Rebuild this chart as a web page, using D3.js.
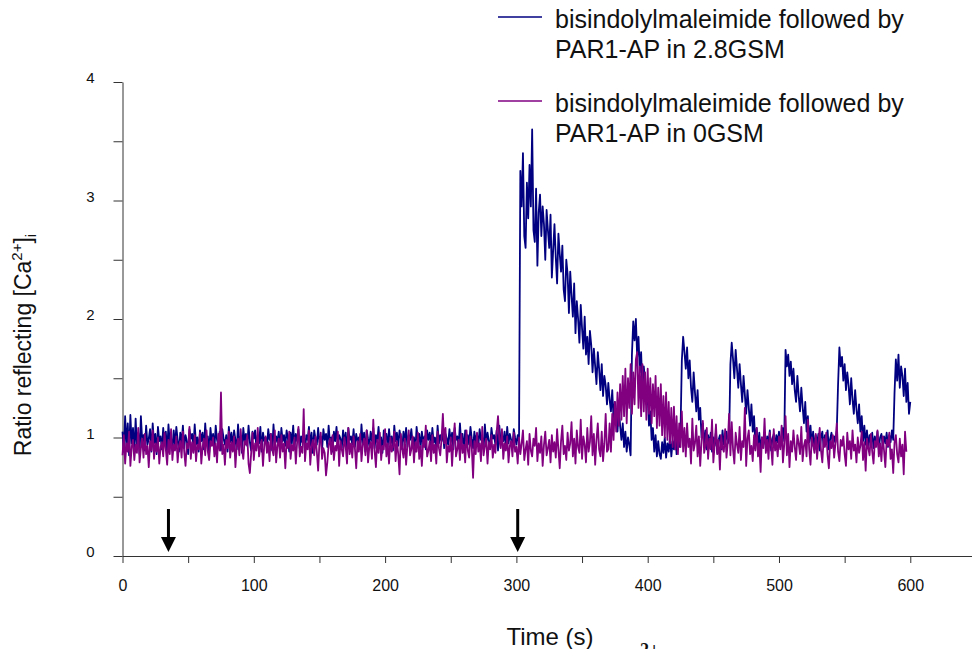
<!DOCTYPE html>
<html>
<head>
<meta charset="utf-8">
<script src="https://cdn.jsdelivr.net/npm/d3@7"></script>
<style>
  body { margin: 0; background: #fff; }
  svg { display: block; font-family: 'Liberation Sans', Arial, sans-serif; }
</style>
</head>
<body>
<div id="chart"></div>
<script>
// one reading per second
var timeStep = 1

var seriesNames = [
  ['bisindolylmaleimide followed by', 'PAR1-AP in 2.8GSM'],
  ['bisindolylmaleimide followed by', 'PAR1-AP in 0GSM']
]

var ratio28GSM = [
  1.05, 0.88, 1.18, 0.92, 1.12, 0.85, 1.19, 0.95, 1.08, 0.87,
  1.16, 0.93, 1.04, 0.86, 1.18, 0.97, 1.02, 0.89, 1.10, 0.94,
  0.99, 1.07, 0.88, 1.12, 0.95, 1.03, 0.86, 1.09, 0.97, 1.01,
  0.90, 1.08, 0.94, 1.05, 0.87, 1.11, 0.96, 1.00, 0.89, 1.06,
  0.93, 1.09, 0.98, 0.88, 1.04, 0.95, 1.10, 0.91, 1.02, 0.97,
  0.86, 1.07, 0.99, 1.03, 0.92, 1.11, 0.94, 1.00, 0.88, 1.06,
  0.97, 1.04, 0.90, 1.12, 0.95, 1.01, 0.87, 1.08, 0.96, 1.03,
  0.91, 1.10, 0.98, 0.93, 1.05, 0.89, 1.07, 0.99, 0.94, 1.02,
  0.88, 1.09, 0.96, 1.04, 0.92, 1.06, 0.98, 0.90, 1.11, 0.95,
  1.01, 0.87, 1.08, 0.97, 1.03, 0.93, 1.10, 0.96, 0.89, 1.05,
  0.99, 1.06, 0.91, 1.02, 0.95, 1.09, 0.88, 1.04, 0.97, 1.00,
  0.92, 1.07, 0.98, 1.03, 0.89, 1.11, 0.94, 1.01, 0.96, 1.05,
  0.90, 1.08, 0.97, 1.02, 0.93, 1.06, 0.99, 0.88, 1.04, 0.95,
  1.10, 0.92, 1.03, 0.97, 1.07, 0.91, 1.01, 0.96, 1.05, 0.89,
  1.02, 0.98, 1.09, 0.93, 1.04, 0.87, 1.06, 0.99, 0.94, 1.08,
  0.96, 1.01, 0.90, 1.07, 0.98, 1.03, 0.92, 1.10, 0.95, 1.00,
  0.88, 1.05, 0.97, 1.09, 0.93, 1.02, 0.99, 0.91, 1.06, 0.96,
  1.04, 0.89, 1.08, 0.98, 1.01, 0.94, 1.07, 0.92, 1.03, 0.97,
  1.00, 0.90, 1.11, 0.95, 1.04, 0.88, 1.06, 0.99, 0.93, 1.05,
  0.97, 1.08, 0.91, 1.02, 0.96, 1.09, 0.94, 1.00, 0.87, 1.06,
  0.98, 1.03, 0.92, 1.07, 0.95, 1.01, 0.89, 1.10, 0.97, 1.04,
  0.93, 1.06, 0.99, 0.90, 1.05, 0.96, 1.08, 0.92, 1.02, 0.98,
  1.07, 0.94, 1.00, 0.88, 1.09, 0.97, 1.03, 0.91, 1.05, 0.95,
  1.01, 0.90, 1.06, 0.98, 1.04, 0.93, 1.08, 0.96, 1.00, 0.89,
  1.10, 0.95, 1.02, 0.97, 1.06, 0.91, 1.03, 0.99, 0.94, 1.07,
  0.96, 1.04, 0.90, 1.08, 0.98, 1.01, 0.93, 1.12, 0.95, 1.03,
  0.88, 1.06, 0.97, 1.02, 0.94, 1.09, 0.99, 0.91, 1.05, 0.96,
  1.03, 0.93, 1.07, 0.98, 1.00, 0.90, 1.11, 0.95, 1.04, 0.97,
  0.92, 1.08, 0.99, 1.02, 0.94, 1.06, 0.89, 1.10, 0.96, 1.01,
  0.97, 1.05, 0.91, 1.09, 0.95, 1.03, 0.98, 0.93, 1.07, 1.00,
  0.94, 1.02, 0.96, 3.25, 2.95, 3.40, 2.70, 2.60, 3.15, 2.85,
  3.30, 2.95, 3.60, 2.75, 2.65, 3.10, 2.45, 2.90, 3.05, 2.70,
  2.95, 2.80, 2.50, 2.92, 2.75, 2.60, 2.88, 2.35, 2.58, 2.80,
  2.52, 2.30, 2.72, 2.55, 2.40, 2.62, 2.25, 2.15, 2.50, 2.38,
  2.05, 2.40, 2.20, 2.02, 2.30, 1.88, 2.15, 2.00, 1.80, 2.12,
  1.92, 1.75, 2.02, 1.70, 1.85, 1.62, 1.90, 1.78, 1.55, 1.75,
  1.60, 1.45, 1.72, 1.58, 1.40, 1.62, 1.35, 1.52, 1.44, 1.28,
  1.46, 1.32, 1.22, 1.40, 1.15, 1.30, 1.20, 1.05, 1.25, 1.10,
  0.98, 1.12, 0.92, 1.05, 0.88, 1.00, 0.94, 0.85, 1.70, 1.98,
  1.82, 2.00, 1.68, 1.85, 1.55, 1.72, 1.40, 1.60, 1.48, 1.28,
  1.35, 1.10, 1.22, 0.98, 1.08, 0.88, 1.02, 0.84, 0.97, 0.86,
  0.82, 0.96, 0.87, 1.00, 0.83, 0.95, 0.88, 1.01, 0.84, 0.97,
  0.90, 1.03, 0.86, 0.99, 0.92, 1.05, 1.65, 1.85, 1.72, 1.58,
  1.76, 1.50, 1.65, 1.42, 1.30, 1.55, 1.38, 1.22, 1.40, 1.15,
  1.25, 1.00, 1.12, 0.93, 1.06, 0.90, 1.02, 0.94, 1.04, 0.88,
  1.00, 0.93, 1.05, 0.87, 0.98, 1.02, 0.90, 1.06, 0.94, 0.97,
  1.05, 0.95, 0.99, 1.62, 1.80, 1.66, 1.50, 1.74, 1.58, 1.42,
  1.62, 1.45, 1.30, 1.52, 1.36, 1.20, 1.40, 1.25, 1.10, 1.28,
  1.05, 1.18, 0.94, 1.08, 0.92, 1.04, 0.89, 1.00, 0.94, 1.04,
  0.90, 1.01, 0.95, 1.06, 0.89, 0.99, 1.03, 0.93, 1.02, 0.96,
  1.05, 0.92, 1.01, 1.08, 0.97, 1.74, 1.60, 1.70, 1.52, 1.64,
  1.45, 1.58, 1.40, 1.30, 1.52, 1.35, 1.22, 1.42, 1.26, 1.12,
  1.30, 1.05, 1.18, 0.96, 1.10, 0.93, 1.05, 0.90, 1.02, 0.94,
  1.03, 0.89, 1.00, 1.05, 0.92, 1.02, 0.95, 1.06, 0.90, 0.99,
  1.04, 0.93, 1.01, 0.96, 1.06, 1.45, 1.76, 1.60, 1.68, 1.48,
  1.62, 1.40, 1.55, 1.44, 1.28, 1.50, 1.32, 1.20, 1.40, 1.24,
  1.12, 1.28, 1.05, 1.18, 0.97, 1.10, 0.94, 1.06, 0.91, 1.02,
  0.95, 1.04, 0.91, 1.01, 0.94, 1.05, 0.90, 1.00, 1.03, 0.93,
  1.01, 0.95, 1.04, 0.92, 1.02, 0.96, 1.06, 0.98, 1.38, 1.66,
  1.48, 1.70, 1.42, 1.60, 1.52, 1.35, 1.58, 1.30, 1.46, 1.20,
  1.30
]

var ratio0GSM = [
  0.85, 1.02, 0.78, 0.95, 0.88, 1.05, 0.76, 0.92, 0.98, 0.81,
  0.94, 0.87, 1.08, 0.79, 0.91, 0.99, 0.83, 1.03, 0.86, 0.93,
  0.75, 0.97, 0.89, 1.06, 0.82, 0.95, 0.88, 1.00, 0.78, 0.92,
  0.96, 0.84, 1.04, 0.90, 0.77, 0.98, 0.86, 1.07, 0.81, 0.94,
  0.89, 1.01, 0.79, 0.93, 0.97, 0.83, 1.05, 0.88, 0.76, 0.95,
  0.91, 1.09, 0.82, 0.96, 0.87, 1.02, 0.80, 0.94, 0.90, 1.04,
  0.78, 0.92, 0.99, 0.85, 1.06, 0.88, 0.81, 0.97, 0.93, 1.00,
  0.84, 0.95, 0.79, 1.03, 0.89, 1.38, 0.86, 0.94, 0.77, 0.98,
  0.91, 1.05, 0.83, 0.96, 0.88, 1.01, 0.75, 0.93, 0.99, 0.85,
  1.07, 0.90, 0.82, 0.97, 0.94, 1.02, 0.78, 0.70, 0.87, 1.04,
  0.81, 0.95, 0.89, 1.08, 0.84, 0.92, 0.98, 0.76, 0.94, 1.01,
  0.87, 0.96, 0.80, 1.03, 0.90, 0.85, 1.06, 0.79, 0.93, 0.99,
  0.83, 1.02, 0.88, 0.95, 0.74, 0.97, 0.91, 1.05, 0.82, 0.94,
  0.89, 1.00, 0.78, 0.96, 1.09, 0.84, 0.92, 0.87, 1.24, 0.80,
  0.95, 0.90, 1.06, 0.77, 0.93, 0.98, 0.85, 1.01, 0.88, 0.72,
  0.96, 1.04, 0.82, 0.91, 0.87, 0.68, 0.79, 0.94, 0.99, 0.86,
  1.02, 0.81, 0.93, 0.89, 1.05, 0.76, 0.97, 0.90, 0.84, 1.00,
  0.92, 0.78, 1.08, 0.86, 0.95, 0.83, 1.01, 0.91, 0.74, 0.97,
  0.88, 1.03, 0.80, 0.94, 0.99, 0.85, 1.06, 0.79, 0.92, 0.96,
  0.82, 1.15, 0.89, 0.75, 0.98, 0.87, 1.04, 0.81, 0.93, 0.90,
  1.07, 0.84, 0.95, 0.78, 1.00, 0.88, 0.92, 1.05, 0.80, 0.97,
  0.86, 0.69, 1.03, 0.91, 0.83, 0.99, 0.77, 0.94, 1.06, 0.85,
  0.90, 1.01, 0.79, 0.96, 0.88, 1.04, 0.82, 0.93, 0.76, 0.98,
  0.92, 1.10, 0.84, 0.89, 0.97, 0.80, 1.02, 0.87, 0.94, 0.78,
  1.05, 0.91, 0.85, 0.99, 1.20, 0.95, 1.08, 0.79, 0.93, 0.88,
  1.00, 0.76, 0.96, 1.12, 0.84, 0.90, 0.98, 0.81, 1.03, 0.87,
  0.94, 0.79, 1.06, 0.89, 0.83, 1.01, 0.92, 0.66, 0.97, 0.86,
  1.04, 0.88, 0.95, 0.80, 1.09, 0.85, 0.93, 0.99, 0.78, 0.96,
  0.90, 1.02, 0.83, 0.94, 0.87, 1.05, 1.18, 0.98, 0.91, 1.07,
  0.82, 0.95, 0.89, 1.01, 0.79, 0.93, 0.97, 0.84, 1.04, 0.88,
  0.92, 0.78, 1.00, 0.86, 0.95, 1.06, 0.81, 0.90, 0.97, 0.77,
  1.03, 0.89, 0.84, 0.99, 0.93, 1.08, 0.80, 0.95, 0.87, 1.01,
  0.76, 0.94, 1.05, 0.85, 0.91, 0.98, 0.79, 1.02, 0.88, 0.96,
  0.83, 1.07, 0.90, 0.74, 0.97, 1.10, 0.86, 0.93, 0.81, 1.04,
  0.89, 0.95, 1.13, 0.84, 0.99, 0.78, 1.06, 0.92, 0.87, 1.15,
  0.82, 1.01, 0.94, 0.79, 1.08, 0.88, 0.96, 1.18, 0.85, 1.03,
  0.77, 0.98, 1.12, 0.90, 0.84, 1.05, 0.80, 0.95, 1.20, 0.88,
  0.90, 1.12, 0.88, 1.20, 0.98, 1.30, 1.05, 1.38, 1.10, 1.45,
  1.15, 1.52, 1.18, 1.58, 1.12, 1.50, 1.25, 1.62, 1.20, 1.55,
  1.28, 1.66, 1.72, 1.25, 1.60, 1.18, 1.62, 1.22, 1.55, 1.15,
  1.58, 1.20, 1.50, 1.12, 1.45, 1.18, 1.52, 1.08, 1.42, 1.10,
  1.45, 1.02, 1.35, 1.00, 1.38, 0.98, 1.30, 0.95, 1.25, 0.92,
  1.26, 0.90, 1.18, 0.86, 1.12, 0.92, 1.22, 0.88, 1.08, 0.84,
  1.12, 0.92, 0.99, 0.78, 1.16, 0.89, 0.95, 1.10, 0.84, 1.01,
  0.76, 0.97, 1.14, 0.87, 0.93, 1.08, 0.82, 0.99, 0.90, 1.15,
  0.79, 0.94, 1.11, 0.86, 0.98, 0.73, 1.02, 0.91, 0.88, 1.07,
  0.83, 0.96, 1.20, 0.85, 1.13, 0.90, 0.78, 1.04, 0.94, 0.87,
  1.09, 0.81, 0.97, 0.92, 1.25, 0.76, 0.99, 1.06, 0.86, 0.93,
  0.80, 1.02, 0.89, 1.08, 0.84, 0.95, 0.71, 1.00, 0.91, 1.16,
  0.87, 0.98, 0.82, 1.04, 0.93, 0.77, 1.07, 0.89, 0.96, 0.84,
  1.01, 0.90, 1.10, 0.79, 0.94, 1.18, 0.85, 1.03, 0.75, 0.97,
  0.88, 1.06, 0.92, 0.81, 1.02, 0.95, 0.86, 1.09, 0.80, 0.93,
  0.98, 0.84, 1.15, 0.90, 0.77, 1.00, 0.94, 0.87, 1.03, 0.82,
  0.96, 1.08, 0.89, 0.79, 0.99, 0.92, 1.04, 0.85, 0.74, 0.97,
  0.91, 1.02, 0.83, 0.95, 1.12, 0.88, 0.80, 0.98, 0.93, 1.01,
  0.86, 0.76, 1.04, 0.90, 0.97, 0.82, 1.06, 0.89, 0.94, 0.79,
  1.00, 0.87, 0.93, 1.05, 0.81, 0.96, 0.72, 0.99, 0.91, 0.85,
  1.03, 0.88, 0.78, 0.97, 0.92, 1.06, 0.84, 0.95, 0.80, 1.01,
  0.89, 0.75, 0.98, 0.93, 1.04, 0.82, 0.90, 0.70, 0.96, 1.02,
  0.86, 0.79, 0.99, 0.84, 0.94, 0.69, 1.05, 0.88
]

// times (s) where the arrows point
var arrowTimes = [35, 301]

var yTicks = [0, 0.5, 1, 1.5, 2, 2.5, 3, 3.5, 4]
var xTicks = [0, 50, 100, 150, 200, 250, 300, 350, 400, 450, 500, 550, 600]

var width = 972
var height = 649

var svg = d3.select('#chart').append('svg')
  .attr('width', width)
  .attr('height', height)

var x = d3.scaleLinear()
  .domain([0, 647])
  .range([122.5, 972])

var y = d3.scaleLinear()
  .domain([0, 4])
  .range([556, 82])

// axes
var yAxis = svg.append('g')
  .attr('transform', 'translate(122.5,0)')
  .call(d3.axisLeft(y)
    .tickValues(yTicks)
    .tickSize(9)
    .tickSizeOuter(0)
    .tickPadding(19)
    .tickFormat(d => Number.isInteger(d) ? d : ''))

yAxis.selectAll('text')
  .attr('dy', '0.05em')
  .attr('font-size', 15)
  .attr('fill', '#111')

var xAxis = svg.append('g')
  .attr('transform', 'translate(0,556)')
  .call(d3.axisBottom(x)
    .tickValues(xTicks)
    .tickSize(7)
    .tickSizeOuter(0)
    .tickPadding(17)
    .tickFormat(d => d % 100 === 0 ? d : ''))

xAxis.selectAll('text')
  .attr('font-size', 16)
  .attr('fill', '#111')

svg.selectAll('.domain, .tick line')
  .attr('stroke', '#333')

// traces
var line = d3.line()
  .x((d, i) => x(i * timeStep))
  .y(d => y(d))

svg.append('path')
  .datum(ratio28GSM)
  .attr('fill', 'none')
  .attr('stroke', '#000080')
  .attr('stroke-width', 1.8)
  .attr('stroke-linejoin', 'round')
  .attr('d', line)

svg.append('path')
  .datum(ratio0GSM)
  .attr('fill', 'none')
  .attr('stroke', '#800080')
  .attr('stroke-width', 1.8)
  .attr('stroke-linejoin', 'round')
  .attr('d', line)

// arrows
var arrows = svg.append('g')
  .selectAll('g')
  .data(arrowTimes)
  .enter()
  .append('g')
  .attr('transform', d => `translate(${x(d)},0)`)

arrows.append('line')
  .attr('x1', 0).attr('x2', 0)
  .attr('y1', 509).attr('y2', 540)
  .attr('stroke', '#000')
  .attr('stroke-width', 3)

arrows.append('path')
  .attr('d', 'M-7.5,537L7.5,537L0,552Z')
  .attr('fill', '#000')

// legend
var legendColors = ['#000080', '#800080']
var legend = svg.append('g')
  .selectAll('g')
  .data(seriesNames)
  .enter()
  .append('g')
  .attr('transform', (d, i) => `translate(0,${i * 84})`)

legend.append('line')
  .attr('x1', 498).attr('x2', 542)
  .attr('y1', 17).attr('y2', 17)
  .attr('stroke', (d, i) => legendColors[i])
  .attr('stroke-width', 1.4)

legend.append('text')
  .attr('x', 555)
  .attr('y', 28)
  .attr('font-size', 25)
  .attr('fill', '#111')
  .selectAll('tspan')
  .data(d => d)
  .enter()
  .append('tspan')
  .attr('x', 555)
  .attr('dy', (d, i) => i ? 29.5 : 0)
  .text(d => d)

// axis titles
var yTitle = svg.append('text')
  .attr('transform', 'translate(31,345) rotate(-90)')
  .attr('text-anchor', 'middle')
  .attr('font-size', 23)
  .attr('fill', '#111')

yTitle.append('tspan').text('Ratio reflecting [Ca')
yTitle.append('tspan').attr('font-size', 15).attr('dy', -9).text('2+')
yTitle.append('tspan').attr('dy', 9).text(']')
yTitle.append('tspan').attr('font-size', 15).attr('dy', 5).text('i')

svg.append('text')
  .attr('x', 550)
  .attr('y', 645)
  .attr('text-anchor', 'middle')
  .attr('font-size', 24)
  .attr('fill', '#111')
  .text('Time (s)')

// top of the caption below, cut off by the frame
svg.append('text')
  .attr('x', 640)
  .attr('y', 656)
  .attr('font-family', "'Liberation Serif', serif")
  .attr('font-weight', 'bold')
  .attr('font-size', 18)
  .attr('fill', '#111')
  .text('2+')
</script>
</body>
</html>
